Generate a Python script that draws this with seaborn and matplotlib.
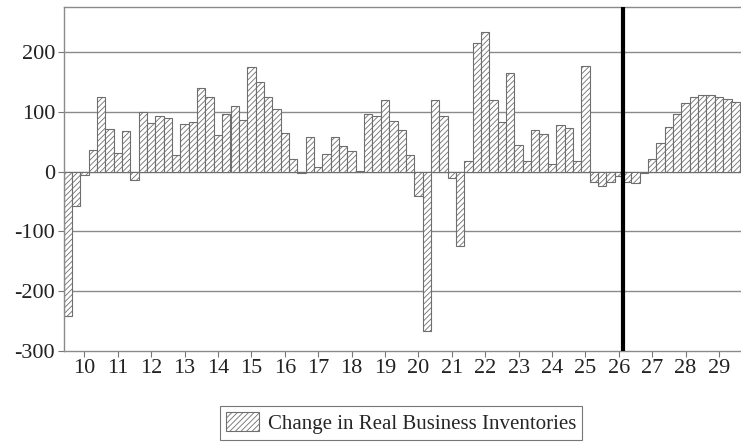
import numpy as np
import pandas as pd
import matplotlib
matplotlib.use("Agg")
import matplotlib.pyplot as plt
import seaborn as sns

# Quarterly change in real business inventories, 2009Q3 - 2029Q3
quarters = pd.period_range("2009Q3", "2029Q3", freq="Q").astype(str).tolist()
inventories = [
    -242, -58,                                   # 2009 Q3-Q4
    -6, 36, 124, 71,                             # 2010
    31, 68, -14, 100,                            # 2011
    81, 93, 89, 27,                              # 2012
    79, 82, 140, 124,                            # 2013
    61, 96, 110, 86,                             # 2014
    174, 149, 124, 104,                          # 2015
    65, 21, -3, 57,                              # 2016
    7, 29, 57, 43,                               # 2017
    34, 1, 96, 92,                               # 2018
    119, 85, 70, 27,                             # 2019
    -41, -267, 120, 92,                          # 2020
    -11, -124, 18, 214,                          # 2021
    234, 119, 83, 165,                           # 2022
    44, 18, 70, 63,                              # 2023
    13, 78, 72, 18,                              # 2024
    177, -18, -25, -17,                          # 2025
    -7, -18, -20, -3,                            # 2026
    21, 48, 74, 96,                              # 2027
    115, 124, 128, 128,                          # 2028
    125, 122, 117,                               # 2029 Q1-Q3
]
year_labels = [str(y) for y in range(10, 30)]
forecast_start = "2026Q1"

df = pd.DataFrame({"Quarter": quarters, "Value": inventories})

sns.set_theme(style="white")
plt.rcParams["font.family"] = ["Liberation Serif", "DejaVu Serif"]
plt.rcParams["hatch.linewidth"] = 0.6
plt.rcParams["hatch.color"] = "#777777"

fig = plt.figure(figsize=(7.41, 4.44), dpi=100)
ax = fig.add_axes([63.5 / 741, 93 / 444, (741 - 63.5) / 741, (351 - 6.7) / 444])

sns.barplot(data=df, x="Quarter", y="Value", order=quarters, width=1.0,
            color="white", edgecolor="#6e6e6e", linewidth=0.8,
            saturation=1, ax=ax, label="Change in Real Business Inventories")
if ax.get_legend() is not None:
    ax.get_legend().remove()
for p in ax.patches:
    p.set_hatch("//////")

ax.set_axisbelow(True)
for v in [-200, -100, 0, 100, 200]:
    ax.axhline(v, color="#8a8a8a", linewidth=1.0, zorder=0)

# forecast divider
split = quarters.index(forecast_start) + 0.5
ax.axvline(split, color="black", linewidth=3.0, zorder=5)

ax.set_ylim(-300, 275.5)
ax.set_xlim(-0.5, -0.5 + (741 - 63.5) / 8.35)
ax.set_yticks([-300, -200, -100, 0, 100, 200])
ax.set_yticklabels(["-300", "-200", "-100", "0", "100", "200"])
tick_pos = [quarters.index(f"20{y}Q1") for y in year_labels]
ax.set_xticks(tick_pos)
ax.set_xticklabels(year_labels)
ax.tick_params(axis="both", labelsize=16, colors="#222222", length=4,
               width=0.8, direction="out", bottom=True, left=True, pad=2)
ax.tick_params(axis="both", color="#777777")
ax.set_xlabel("")
ax.set_ylabel("")

for side in ["left", "top", "bottom"]:
    ax.spines[side].set_color("#8a8a8a")
    ax.spines[side].set_linewidth(1.0)
ax.spines["right"].set_visible(False)

handles, labels = ax.get_legend_handles_labels()
leg = fig.legend(handles[:1], labels[:1], loc="center",
                 bbox_to_anchor=(401 / 741, 1 - 423 / 444),
                 fontsize=15, frameon=True, fancybox=False,
                 edgecolor="#555555", handlelength=1.6, handleheight=1.0,
                 borderpad=0.3, handletextpad=0.4)
leg.get_frame().set_linewidth(0.8)
for h in leg.legend_handles:
    h.set_hatch("//////")

fig.savefig("out.png", dpi=100)
